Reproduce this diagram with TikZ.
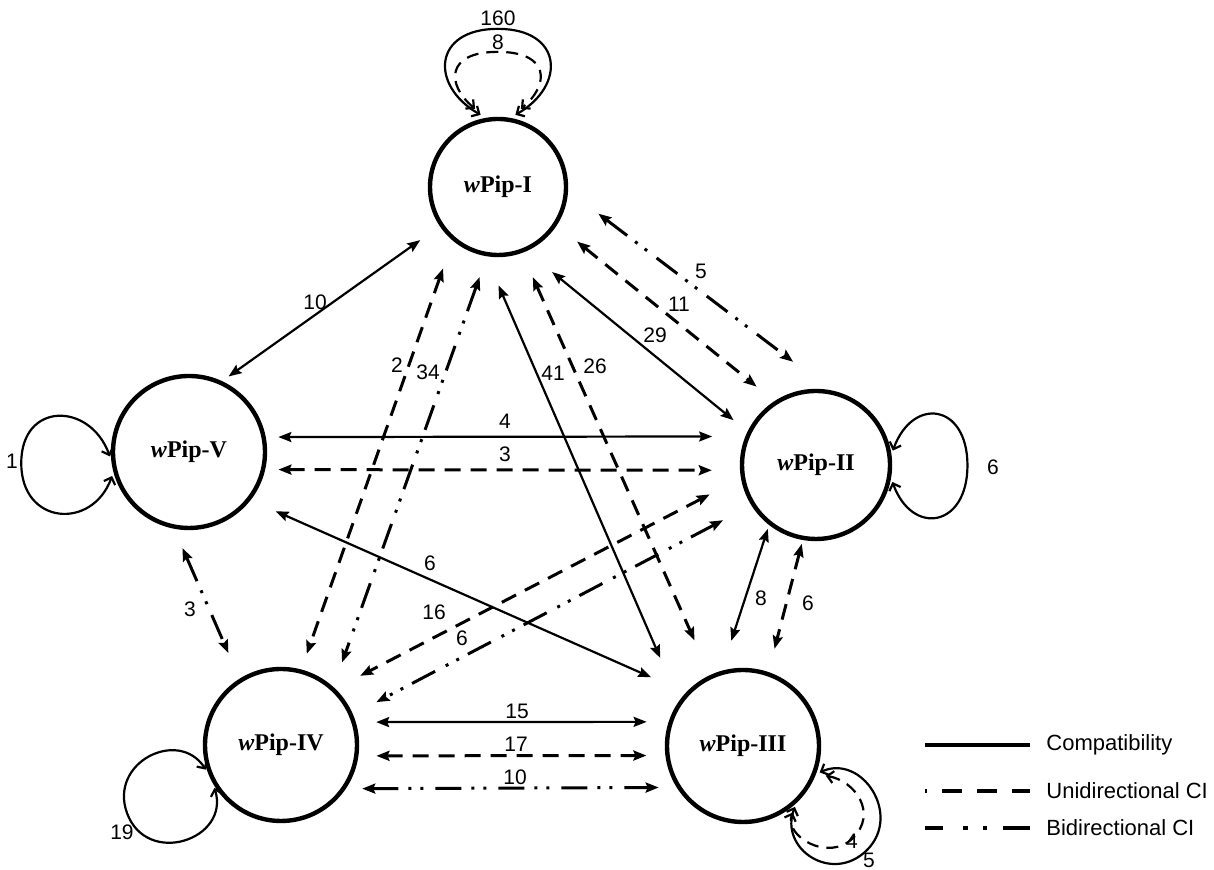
\documentclass[tikz,border=0pt]{standalone}
\usepackage{fontspec}
\setmainfont{Liberation Serif}
\setsansfont{Liberation Sans}
\usetikzlibrary{arrows.meta,shapes.geometric}

\begin{document}
\begin{tikzpicture}[x=0.5pt,y=0.5pt,
  pip/.style={ellipse,draw,line width=2.2pt,inner sep=0pt,font=\fontsize{12}{14}\selectfont\bfseries},
  compat/.style={line width=1.1pt},
  unidir/.style={line width=1.5pt,dash pattern=on 8pt off 5pt},
  bidir/.style={line width=1.5pt,dash pattern=on 13pt off 5pt on 1.5pt off 4.5pt on 1.5pt off 6pt},
  both/.style={{Stealth[length=6.5pt,width=5pt,inset=1pt]}-{Stealth[length=6.5pt,width=5pt,inset=1pt]}},
  selfl/.style={line width=1.1pt,{Straight Barb[length=3pt,width=6pt]}-{Straight Barb[length=3pt,width=6pt]}},
  num/.style={font=\sffamily\fontsize{10.5}{12}\selectfont,inner sep=0pt},
  key/.style={font=\sffamily\fontsize{11}{13}\selectfont,inner sep=0pt,anchor=west}]
\useasboundingbox (0,0) rectangle (1214,870);

\node[pip,minimum width=68pt,minimum height=68pt] (p1) at (498,683) {\textit{w}Pip-I};
\node[pip,minimum width=76pt,minimum height=76pt] (p5) at (189,418) {\textit{w}Pip-V};
\node[pip,minimum width=74pt,minimum height=74pt] (p2) at (816,405) {\textit{w}Pip-II};
\node[pip,minimum width=76pt,minimum height=76pt] (p4) at (281,125) {\textit{w}Pip-IV};
\node[pip,minimum width=76pt,minimum height=76pt] (p3) at (743,124) {\textit{w}Pip-III};

\draw[compat,both,shorten <=12pt,shorten >=4pt] (p1.214) -- (p5.65);
\draw[compat,both,shorten <=16.5pt,shorten >=9pt] (p1.-66) -- (p2.154);
\draw[unidir,both,shorten <=13pt,shorten >=11.5pt] (p1.-33) -- (p2.123);
\draw[bidir,both,shorten <=19pt,shorten >=23.5pt] (p1.-3) -- (p2.79);
\draw[compat,both,shorten <=16pt,shorten >=23.5pt] (p1.-100) -- (p3.145);
\draw[unidir,both,shorten <=13.3pt,shorten >=19pt] (p1.-70) -- (p3.115);
\draw[unidir,both,shorten <=14.7pt,shorten >=8.3pt] (p1.-130) -- (p4.75);
\draw[bidir,both,shorten <=11pt,shorten >=13pt] (p1.-99) -- (p4.48);
\draw[compat,both,shorten <=6.3pt,shorten >=16.6pt] (p5.11) -- (p2.158);
\draw[unidir,both,shorten <=6.6pt,shorten >=14.1pt] (p5.-13) -- (p2.184);
\draw[compat,both,shorten <=13.7pt,shorten >=19pt] (p5.-38) -- (p3.137);
\draw[bidir,both,shorten <=10.5pt,shorten >=14pt] (p5.-101) -- (p4.122);
\draw[unidir,both,shorten <=17.6pt,shorten >=14pt] (p2.190) -- (p4.46);
\draw[bidir,both,shorten <=16pt,shorten >=13.2pt] (p2.212) -- (p4.23);
\draw[compat,both,shorten <=2pt,shorten >=15.8pt] (p2.-128) -- (p3.106);
\draw[unidir,both,shorten <=2pt,shorten >=12pt] (p2.-100) -- (p3.71);
\draw[compat,both,shorten <=10.2pt,shorten >=11pt] (p4.17) -- (p3.162);
\draw[unidir,both,shorten <=9pt,shorten >=9.5pt] (p4.-8) -- (p3.187);
\draw[bidir,both,shorten <=8.2pt,shorten >=9pt] (p4.-34) -- (p3.-148);

\draw[selfl,shorten <=3pt,shorten >=3pt] (p1.100) .. controls +(150:65) and +(180:65) .. ++(12,89) .. controls +(0:65) and +(30:65) .. (p1.80);
\draw[selfl,dash pattern=on 6pt off 4pt,shorten <=7pt,shorten >=7pt] (p1.100) .. controls +(140:52) and +(180:52) .. ++(12,66) .. controls +(0:52) and +(40:52) .. (p1.80);
\draw[selfl,shorten <=2pt,shorten >=2pt] (p5.186) .. controls +(110:62) and +(90:62) .. ++(-90,-3) .. controls +(-90:62) and +(250:62) .. (p5.195);
\draw[selfl,shorten <=2pt,shorten >=2pt] (p2.8) .. controls +(70:62) and +(90:62) .. ++(76,-11) .. controls +(-90:62) and +(-70:62) .. (p2.-10);
\draw[selfl,shorten <=2pt,shorten >=2pt] (p4.201) .. controls +(123:54) and +(110:54) .. ++(-81,-40) .. controls +(-70:58) and +(-73:58) .. (p4.210);
\draw[selfl,shorten <=2pt,shorten >=2pt] (p3.-21) .. controls +(24:50) and +(45:50) .. ++(51,-76) .. controls +(-135:49) and +(-111:49) .. (p3.-47);
\draw[selfl,dash pattern=on 6pt off 4pt,shorten <=5pt,shorten >=5pt] (p3.-21) .. controls +(-10:40) and +(45:35) .. ++(37,-64) .. controls +(-135:35) and +(-111:35) .. (p3.-47);

\node[num] (n160) at (498,852) {160};
\node[num] (n8a) at (498,828) {8};
\node[num] (n10a) at (315,568) {10};
\node[num] (n29) at (655,535) {29};
\node[num] (n11) at (679,566) {11};
\node[num] (n5a) at (701,599) {5};
\node[num] (n41) at (553,497) {41};
\node[num] (n26) at (595,504) {26};
\node[num] (n2) at (397,505) {2};
\node[num] (n34) at (428,498) {34};
\node[num] (n4a) at (505,449) {4};
\node[num] (n3a) at (505,416) {3};
\node[num] (n6a) at (430,307) {6};
\node[num] (n3b) at (190,261) {3};
\node[num] (n16) at (434,258) {16};
\node[num] (n6b) at (462,232) {6};
\node[num] (n8b) at (761,272) {8};
\node[num] (n6c) at (808,267) {6};
\node[num] (n15) at (517,159) {15};
\node[num] (n17) at (516,126) {17};
\node[num] (n10b) at (515,93) {10};
\node[num] (n1) at (12,409) {1};
\node[num] (n6d) at (993,403) {6};
\node[num] (n19) at (122,38) {19};
\node[num] (n4b) at (852,29) {4};
\node[num] (n5b) at (869,10) {5};

\draw[line width=1.8pt] (925,125) -- (1030,125);
\draw[line width=1.8pt,dash pattern=on 10pt off 7.5pt,dash phase=9pt] (925,79) -- (1030,79);
\draw[line width=1.8pt,dash pattern=on 13.5pt off 10pt on 2.5pt off 7.5pt on 2pt off 8pt,dash phase=4.5pt] (925,42) -- (1030,42);
\node[key] (k1) at (1046,125) {Compatibility};
\node[key] (k2) at (1046,79) {Unidirectional CI};
\node[key] (k3) at (1046,42) {Bidirectional CI};
\end{tikzpicture}
\end{document}
